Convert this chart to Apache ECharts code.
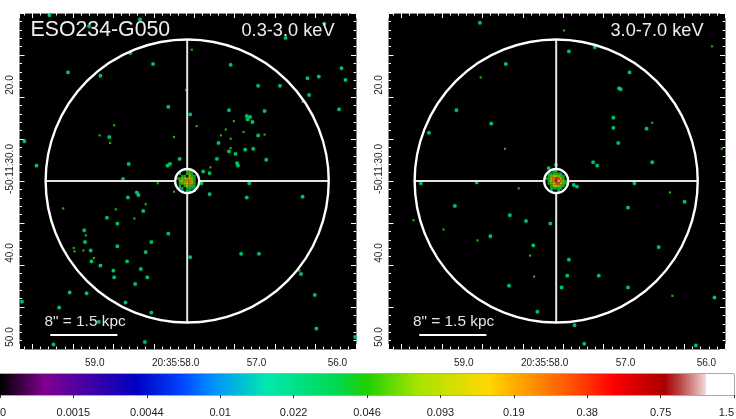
<!DOCTYPE html>
<html lang="en">
<head>
<meta charset="utf-8"/>
<title>ESO234-G050</title>
<script src="https://cdn.jsdelivr.net/npm/echarts@6/dist/echarts.min.js"></script>
<style>
    html, body { margin: 0; padding: 0; background: #fff; }
    #main { width: 736px; height: 419px; }
</style>
</head>
<body>
<div id="main"></div>
<script type="text/javascript">
    // [RA seconds (20:35:xx), Dec arcsec (-50:11:xx), flux]
    var softPoints = [
        [59.56,11.7,.03],[58.44,12.2,.03],[59.07,13.0,.04],[56.64,14.4,.03],[56.16,12.7,.03],[58.56,16.2,.03],
        [57.80,15.8,.05],[57.32,17.6,.03],[58.28,17.5,.03],[59.33,18.5,.03],[58.93,18.9,.03],[55.95,18.0,.03],
        [56.37,19.2,.03],[56.23,19.0,.03],[55.90,19.4,.03],[56.98,20.1,.03],[56.71,20.1,.03],[56.35,21.2,.03],
        [56.43,22.0,.05],[57.87,20.6,.05],[58.09,22.6,.03],[57.34,23.0,.03],[56.90,23.1,.03],[55.98,22.9,.03],
        [57.82,23.5,.03],[57.12,23.7,.03],[57.08,23.8,.03],[57.11,24.1,.03],[57.05,24.4,.03],[57.28,24.3,.05],
        [58.76,24.8,.05],[57.74,24.9,.05],[57.38,25.3,.05],[57.16,25.6,.05],[57.44,26.0,.05],[56.98,26.0,.03],
        [56.90,25.9,.05],[58.94,26.0,.05],[58.82,26.2,.03],[58.02,26.2,.05],[57.32,26.4,.05],[58.81,26.9,.05],
        [57.47,26.9,.03],[59.87,26.7,.03],[57.32,27.5,.05],[57.14,27.7,.03],[57.04,27.6,.03],[57.34,27.9,.03],
        [57.26,28.2,.03],[57.95,28.8,.03],[57.49,28.8,.03],[56.88,28.9,.03],[57.24,29.3,.03],[57.23,29.6,.03],
        [59.72,29.6,.03],[58.58,29.4,.03],[58.07,29.4,.03],[58.10,29.6,.03],[57.57,29.8,.05],[57.66,30.3,.03],
        [57.58,30.5,.03],[58.65,31.2,.03],[58.22,31.7,.05],[57.09,31.7,.03],[57.68,31.7,.03],[58.02,32.7,.05],
        [57.58,33.0,.03],[58.48,32.8,.03],[58.46,33.1,.03],[58.59,33.4,.03],[57.12,33.4,.03],[56.43,33.3,.03],
        [59.39,34.7,.05],[58.37,34.2,.05],[58.74,34.8,.05],[58.40,35.0,.03],[58.85,35.8,.03],[58.51,35.9,.05],
        [58.72,36.5,.03],[59.13,37.3,.03],[59.11,37.9,.05],[58.09,37.7,.03],[59.12,38.7,.03],[58.30,38.7,.03],
        [58.72,39.2,.03],[59.26,39.4,.05],[59.25,39.8,.05],[59.14,39.7,.05],[59.05,39.7,.03],[58.37,39.9,.03],
        [57.19,40.1,.03],[56.97,40.1,.03],[59.01,40.6,.05],[57.82,40.5,.03],[59.04,41.0,.03],[58.60,41.0,.03],
        [58.93,41.5,.03],[58.43,41.9,.03],[58.77,42.1,.03],[56.47,42.1,.05],[56.45,42.5,.03],[58.76,42.9,.03],
        [58.35,42.9,.03],[58.50,43.7,.03],[59.31,44.7,.03],[59.10,44.8,.03],[56.28,45.0,.03],[59.90,45.8,.03],
        [58.62,45.9,.03],[59.44,46.5,.03],[58.30,47.1,.03],[58.95,48.2,.03],[56.26,49.0,.03],[59.51,50.9,.03],
        [58.38,50.6,.03],[55.78,50.0,.03]
    ];
    var hardPoints = [
        [58.80,12.6,.03],[57.76,13.5,.05],[55.93,15.4,.05],[57.70,16.0,.03],[57.38,15.5,.03],[58.48,17.5,.03],
        [58.79,19.1,.05],[56.95,18.5,.03],[57.08,20.4,.03],[57.06,20.5,.03],[59.09,23.0,.03],[57.15,23.9,.03],
        [58.66,24.6,.03],[57.15,25.1,.03],[56.74,25.2,.03],[56.67,24.5,.05],[59.43,25.7,.03],[57.09,26.9,.03],
        [58.49,27.6,.05],[55.81,27.6,.05],[57.40,29.2,.03],[57.35,29.6,.03],[56.67,29.2,.03],[57.86,29.5,.02],
        [57.95,29.9,.03],[59.53,31.7,.03],[58.84,31.6,.03],[56.89,31.7,.03],[58.32,32.3,.05],[57.64,31.9,.03],
        [57.60,32.1,.03],[56.45,32.8,.05],[56.27,33.9,.03],[59.11,34.4,.03],[56.97,34.6,.03],[58.43,35.5,.03],
        [59.62,36.1,.05],[58.23,36.2,.03],[57.93,36.5,.03],[59.25,37.2,.05],[58.67,38.0,.03],[58.83,38.5,.05],
        [58.14,39.1,.03],[56.59,39.3,.03],[58.18,40.3,.05],[57.70,40.8,.03],[58.13,42.8,.05],[57.72,42.7,.03],
        [57.33,42.7,.03],[58.44,43.9,.03],[57.79,44.1,.03],[56.97,44.1,.03],[56.42,45.1,.05],[55.90,45.3,.03],
        [58.09,47.0,.03],[57.63,48.6,.03],[57.51,50.8,.03],[56.13,51.0,.03]
    ];
    // nucleus flux, rows north to south, columns east to west
    var softNucleus = [
        [0,0,0,0,.03,.05,.03,0,0],
        [0,.03,0,0,.05,.07,.04,0,0],
        [0,0,.04,.05,0,.09,.05,.03,0],
        [.03,.05,.07,.09,.07,.14,.08,.04,0],
        [0,.07,.09,.06,.2,.24,.09,.04,0],
        [0,.04,.07,.09,.14,.2,.09,.05,0],
        [0,.03,0,.05,.08,.06,.05,.03,0],
        [0,.015,.04,0,.04,.03,.012,.04,0],
        [0,0,.012,0,.03,.03,0,.02,0]
    ];
    var hardNucleus = [
        [0,0,0,.03,.03,0,0,0,0],
        [0,.03,.04,.05,.05,.05,.03,0,0],
        [0,.04,.07,.1,.1,.09,.06,.03,0],
        [.03,.05,.1,.2,.4,.3,.12,.05,0],
        [0,.04,.09,.25,.5,1.2,.28,.09,.04],
        [0,.04,.07,.15,.28,.32,.15,.07,.03],
        [0,0,.05,.09,.12,.09,.06,.03,0],
        [0,0,.03,.04,.04,.03,.03,0,0],
        [0,0,.02,0,0,.02,0,0,0]
    ];
    var nucleusRA = 57.857, nucleusDec = 31.43;
    var outerRadius = 16.85, innerRadius = 1.43;   // arcsec
    var raLabels = [59, 58, 57, 56];
    var decLabels = [20, 30, 40, 50];
    var barTickLabels = ['0','0.0015','0.0044','0.01','0.022','0.046','0.093','0.19','0.38','0.75','1.5'];
    var barTickFlux = [0,.0015,.0044,.01,.022,.046,.093,.19,.38,.75,1.5];
    // colour bar stops, position in tick units (0-10)
    var barStopPos = [0,.3,.61,1.85,2.45,2.9,3.63,4.6,5,5.7,6.65,7.8,8.35,9.06,9.25,9.45,9.62,9.62,10];
    var barStopColors = ['#000000','#400048','#80008f','#0000c0','#0040ff','#0090ff','#00e8b0','#00d850','#20d000','#a8e400','#ffd800','#ff5000','#ff0000','#a80000','#b84040','#d89090','#f4dcdc','#ffffff','#ffffff'];

    function hexToRgb(c) {
        return [parseInt(c.substr(1,2),16), parseInt(c.substr(3,2),16), parseInt(c.substr(5,2),16)];
    }
    function fluxToPos(f) {
        for (var i = 1; i < barTickFlux.length; i++) {
            if (f <= barTickFlux[i]) {
                return i - 1 + (f - barTickFlux[i-1]) / (barTickFlux[i] - barTickFlux[i-1]);
            }
        }
        return 10;
    }
    function fluxColor(f) {
        var p = fluxToPos(f);
        for (var i = 1; i < barStopPos.length; i++) {
            if (p <= barStopPos[i]) {
                var t = (p - barStopPos[i-1]) / Math.max(barStopPos[i] - barStopPos[i-1], 1e-6);
                var a = hexToRgb(barStopColors[i-1]), b = hexToRgb(barStopColors[i]);
                return 'rgb(' + Math.round(a[0]+(b[0]-a[0])*t) + ',' + Math.round(a[1]+(b[1]-a[1])*t) + ',' + Math.round(a[2]+(b[2]-a[2])*t) + ')';
            }
        }
        return '#ffffff';
    }
    function nucleusCells(rows) {
        var out = [];
        for (var r = 0; r < rows.length; r++) {
            for (var c = 0; c < rows[r].length; c++) {
                if (rows[r][c] > 0) {
                    out.push([nucleusRA + (4 - c) * 0.03, nucleusDec + (r - 4) * 0.29, rows[r][c]]);
                }
            }
        }
        return out;
    }
    function crossData() {
        var rr = outerRadius / 9.64, ri = innerRadius / 9.64;
        return [
            [nucleusRA + rr, nucleusDec], [nucleusRA + ri, nucleusDec], ['-','-'],
            [nucleusRA - ri, nucleusDec], [nucleusRA - rr, nucleusDec], ['-','-'],
            [nucleusRA, nucleusDec - outerRadius], [nucleusRA, nucleusDec - innerRadius], ['-','-'],
            [nucleusRA, nucleusDec + innerRadius], [nucleusRA, nucleusDec + outerRadius]
        ];
    }
    function renderRing(params, api) {
        var c = api.coord([api.value(0), api.value(1)]);
        var r = api.size([0, api.value(2)])[1];
        return {
            type: 'circle',
            shape: { cx: c[0], cy: c[1], r: r },
            style: { fill: null, stroke: '#ffffff', lineWidth: 2.4 }
        };
    }
    function renderBar(params, api) {
        var a = api.coord([0, 1]), b = api.coord([10, 0]);
        var stops = [];
        for (var i = 0; i < barStopPos.length; i++) {
            stops.push({ offset: barStopPos[i] / 10, color: barStopColors[i] });
        }
        return {
            type: 'rect',
            shape: { x: a[0], y: a[1], width: b[0] - a[0], height: b[1] - a[1] },
            style: { fill: new echarts.graphic.LinearGradient(0, 0, 1, 0, stops) }
        };
    }

    var tickWhite = { color: '#ffffff', width: 1 };
    function raAxis(grid, pos, labelled) {
        return {
            type: 'value', gridIndex: grid, position: pos, inverse: true,
            min: 55.77, max: 59.93, interval: 0.5, scale: true,
            axisLine: { show: true, onZero: false, lineStyle: { color: '#8a8a8a', width: 1 } },
            axisTick: { show: true, inside: true, length: 5, lineStyle: tickWhite },
            minorTick: { show: true, splitNumber: 5, length: 2.5, lineStyle: tickWhite },
            splitLine: { show: false },
            axisLabel: {
                show: labelled, customValues: raLabels, margin: 9, fontSize: 10, color: '#222',
                formatter: function (v) { return v === 58 ? '20:35:58.0' : v.toFixed(1); }
            }
        };
    }
    function decAxis(grid, pos, labelled) {
        return {
            type: 'value', gridIndex: grid, position: pos, inverse: true,
            min: 11.43, max: 51.43, interval: 5, scale: true,
            axisLine: { show: true, onZero: false, lineStyle: { color: '#8a8a8a', width: 1 } },
            axisTick: { show: true, inside: true, length: 5, lineStyle: tickWhite },
            minorTick: { show: true, splitNumber: 5, length: 2.5, lineStyle: tickWhite },
            splitLine: { show: false },
            axisLabel: {
                show: labelled, customValues: decLabels, rotate: 90, margin: 4, fontSize: 10, color: '#222',
                formatter: function (v) { return v === 30 ? '-50:11:30.0' : v.toFixed(1); }
            }
        };
    }
    function panelSeries(i, points, nucleus) {
        var ax = i * 2;
        return [
            { type: 'scatter', xAxisIndex: ax, yAxisIndex: ax, z: 2, silent: true,
              data: points.filter(function (p) { return p[2] < .05; }), symbol: 'diamond', symbolSize: 5.4,
              itemStyle: { color: 'rgba(0,150,190,0.45)' } },
            { type: 'scatter', xAxisIndex: ax, yAxisIndex: ax, z: 3, silent: true,
              data: points, symbol: 'rect',
              symbolSize: function (v) { return v[2] >= .05 ? 2.2 : 3.2; },
              itemStyle: { color: function (p) { return p.value[2] < .05 ? '#00ea62' : '#2ed414'; } } },
            { type: 'scatter', xAxisIndex: ax, yAxisIndex: ax, z: 4, silent: true,
              data: nucleusCells(nucleus), symbol: 'rect', symbolSize: 2.5,
              itemStyle: { color: function (p) { return fluxColor(p.value[2]); } } },
            { type: 'line', xAxisIndex: ax, yAxisIndex: ax, z: 5, silent: true,
              data: crossData(), symbol: 'none', connectNulls: false,
              lineStyle: { color: '#e4e4e4', width: 2 } },
            { type: 'custom', xAxisIndex: ax, yAxisIndex: ax, z: 6, silent: true,
              coordinateSystem: 'cartesian2d', renderItem: renderRing, clip: false,
              data: [[nucleusRA, nucleusDec, outerRadius], [nucleusRA, nucleusDec, innerRadius]] },
            { type: 'line', xAxisIndex: ax, yAxisIndex: ax, z: 6, silent: true,
              data: [[59.55, 49.76], [58.72, 49.76]], symbol: 'none',
              lineStyle: { color: '#ffffff', width: 2 } }
        ];
    }

    var myChart = echarts.init(document.getElementById('main'), null, { renderer: 'canvas' });
    var option = {
        animation: false,
        backgroundColor: '#ffffff',
        textStyle: { fontFamily: '"Liberation Sans", Arial, sans-serif' },
        grid: [
            { left: 19.5, top: 13, width: 336.5, height: 336, show: true, backgroundColor: '#000', borderWidth: 0, outerBoundsMode: 'none' },
            { left: 388.5, top: 13, width: 336.5, height: 336, show: true, backgroundColor: '#000', borderWidth: 0, outerBoundsMode: 'none' },
            { left: 0, top: 374, width: 734, height: 21, show: true, borderColor: '#555', borderWidth: 1, backgroundColor: 'transparent', outerBoundsMode: 'none' }
        ],
        xAxis: [
            raAxis(0, 'bottom', true), raAxis(0, 'top', false),
            raAxis(1, 'bottom', true), raAxis(1, 'top', false),
            {
                type: 'value', gridIndex: 2, min: 0, max: 10, interval: 1, position: 'bottom',
                axisLine: { show: false },
                axisTick: { show: true, length: 3, lineStyle: { color: '#333' } },
                splitLine: { show: false },
                axisLabel: {
                    margin: 12, fontSize: 11, color: '#222', alignMinLabel: 'left', alignMaxLabel: 'right',
                    formatter: function (v) { return barTickLabels[v]; }
                }
            }
        ],
        yAxis: [
            decAxis(0, 'left', true), decAxis(0, 'right', false),
            decAxis(1, 'left', true), decAxis(1, 'right', false),
            { type: 'value', gridIndex: 2, min: 0, max: 1, show: false }
        ],
        graphic: [
            { type: 'text', left: 30.5, top: 20, z: 100, silent: true,
              style: { text: 'ESO234-G050', fill: '#eeeeee', fontSize: 21.3, fontFamily: 'Liberation Sans' } },
            { type: 'text', left: 241.5, top: 21.5, z: 100, silent: true,
              style: { text: '0.3-3.0 keV', fill: '#eeeeee', fontSize: 18.2, fontFamily: 'Liberation Sans' } },
            { type: 'text', left: 610.5, top: 21.5, z: 100, silent: true,
              style: { text: '3.0-7.0 keV', fill: '#eeeeee', fontSize: 18.2, fontFamily: 'Liberation Sans' } },
            { type: 'text', left: 44.5, top: 314, z: 100, silent: true,
              style: { text: '8" = 1.5 kpc', fill: '#e4e4e4', fontSize: 15.4, fontFamily: 'Liberation Sans' } },
            { type: 'text', left: 413, top: 314, z: 100, silent: true,
              style: { text: '8" = 1.5 kpc', fill: '#e4e4e4', fontSize: 15.4, fontFamily: 'Liberation Sans' } }
        ],
        series: panelSeries(0, softPoints, softNucleus).concat(panelSeries(1, hardPoints, hardNucleus)).concat([
            { type: 'custom', xAxisIndex: 4, yAxisIndex: 4, coordinateSystem: 'cartesian2d', silent: true,
              renderItem: renderBar, data: [[0, 0]] }
        ])
    };
    myChart.setOption(option);
</script>
</body>
</html>
